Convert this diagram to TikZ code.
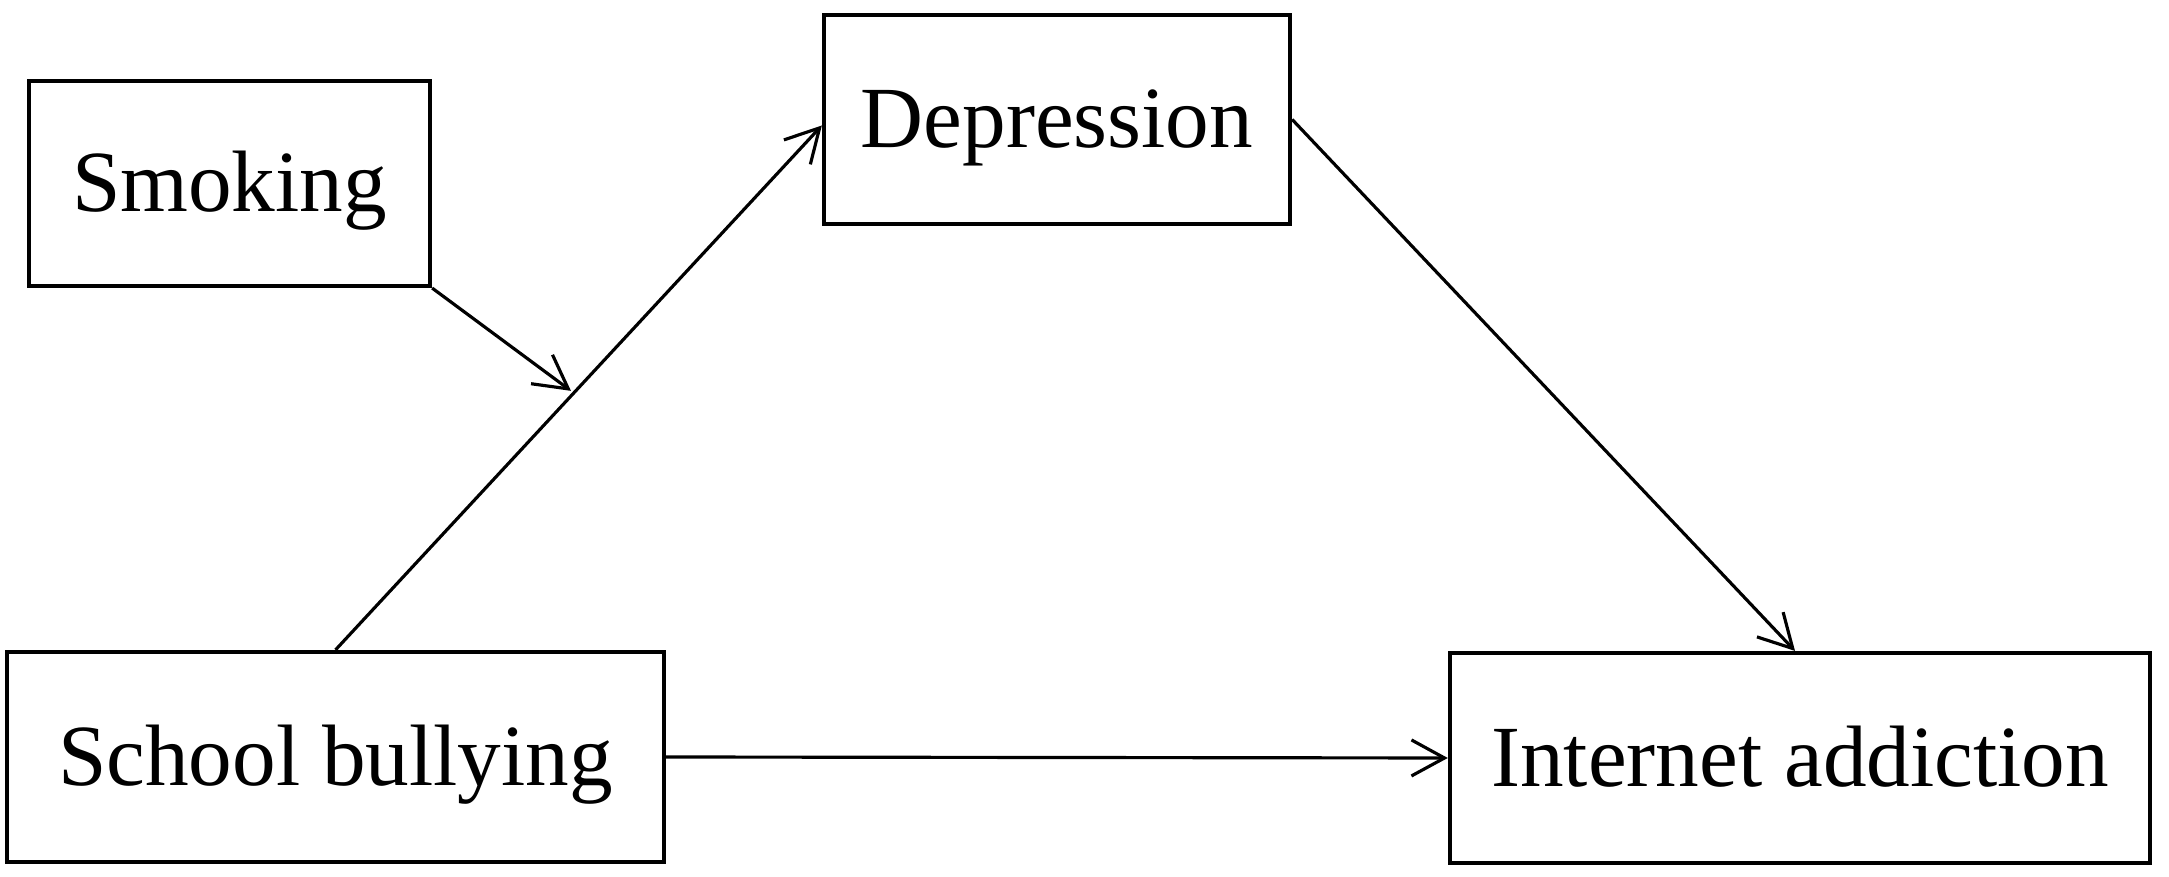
\documentclass[tikz,border=0pt]{standalone}
\usepackage{fontspec}
\setmainfont{Liberation Serif}
\usetikzlibrary{arrows.meta,calc}
\begin{document}
\begin{tikzpicture}[x=0.01cm,y=-0.01cm,
  varbox/.style={draw=black,line width=1.15pt,fill=white,inner sep=0pt,
    font=\fontsize{24.8}{30}\selectfont,text height=16pt,text depth=0pt,align=center},
  conn/.style={draw=black,line width=0.9pt,-{Straight Barb[length=0.33cm,width=0.36cm,line width=0.9pt]}}]
\useasboundingbox[fill=white] (0,0) rectangle (2169,877);
\node[varbox,minimum width=4.01cm,minimum height=2.05cm] (smk) at (229.5,183.5) {Smoking};
\node[varbox,minimum width=4.66cm,minimum height=2.09cm] (dep) at (1057,119.5) {Depression};
\node[varbox,minimum width=6.57cm,minimum height=2.10cm] (sb) at (335.5,757) {School bullying};
\node[varbox,minimum width=7.00cm,minimum height=2.10cm] (ia) at (1800,758) {Internet addiction};
\draw[conn] (sb.north) -- coordinate[pos=0.49] (mod) ([yshift=-0.06cm]dep.west);
\draw[conn] (dep.east) -- ([xshift=-0.05cm]ia.north);
\draw[conn] (sb.east) -- (ia.west);
\draw[conn,shorten >=1pt] (smk.south east) -- (mod);
\end{tikzpicture}
\end{document}
